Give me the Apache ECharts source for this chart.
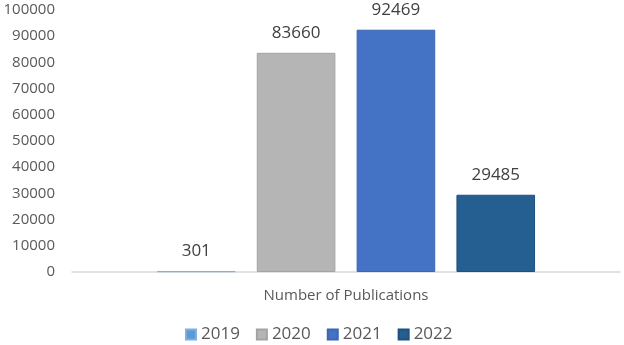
<!DOCTYPE html>
<html><head><meta charset="utf-8">
<script src="https://cdn.jsdelivr.net/npm/echarts@6/dist/echarts.min.js"></script>
<style>html,body{margin:0;padding:0;background:#fff}#c{width:624px;height:345px}</style>
</head><body><div id="c"></div>
<script>
const categories = ['Number of Publications'];
const years = ['2019', '2020', '2021', '2022'];
const values = [301, 83660, 92469, 29485];
const colors = ['#5B9BD5', '#B5B5B5', '#4472C4', '#255E91'];
const borders = ['#7FB0DE', '#A3A3A3', '#3A66B5', '#1F507E'];
const yTicks = { min: 0, max: 100000, interval: 10000 };

const font = '"Open Sans", "Liberation Sans", sans-serif';
const chart = echarts.init(document.getElementById('c'), null, {renderer: 'canvas'});
chart.setOption({
  animation: false,
  textStyle: { fontFamily: font },
  grid: { left: 72, right: 4, top: 10, bottom: 73, containLabel: false },
  legend: {
    top: 326, left: 185, padding: 0, itemWidth: 10, itemHeight: 10, itemGap: 16,
    icon: 'rect',
    textStyle: { fontSize: 17, color: '#595959', fontFamily: font },
    data: years
  },
  xAxis: {
    type: 'category', data: categories,
    axisLine: { lineStyle: { color: '#D9D9D9', width: 1.5 } },
    axisTick: { show: false },
    axisLabel: { fontSize: 15, color: '#595959', margin: 16, fontFamily: font }
  },
  yAxis: {
    type: 'value', min: yTicks.min, max: yTicks.max, interval: yTicks.interval,
    splitLine: { show: false },
    axisLine: { show: false }, axisTick: { show: false },
    axisLabel: { fontSize: 15, color: '#595959', margin: 17, fontFamily: font,
      formatter: v => String(v) }
  },
  series: years.map((y, i) => ({
    name: y, type: 'bar',
    data: [values[i]],
    barGap: '27%', barCategoryGap: '31%',
    itemStyle: { color: colors[i], borderColor: borders[i], borderWidth: 1 },
    label: { show: true, position: 'top', distance: 11, fontSize: 17, color: '#404040', fontFamily: font }
  }))
});
</script></body></html>
